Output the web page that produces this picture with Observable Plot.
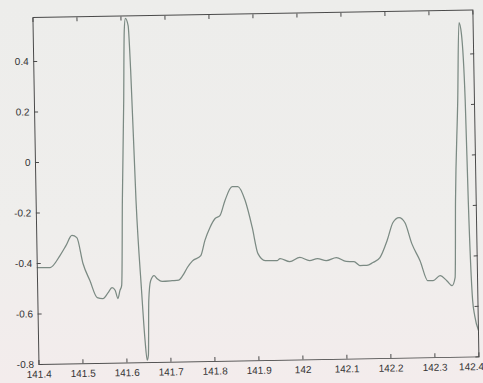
<!DOCTYPE html>
<html>
<head>
<meta charset="utf-8">
<script src="https://cdn.jsdelivr.net/npm/d3@7"></script>
<script src="https://cdn.jsdelivr.net/npm/@observablehq/plot@0.6"></script>
<style>
  html, body { margin: 0; padding: 0; overflow: hidden; width: 483px; height: 383px; }
  body { background: linear-gradient(#ededeb 0%, #efeeec 60%, #f3ecec 100%); }
  svg { transform: rotate(-1deg); transform-origin: 50% 50%; display: block; }
</style>
</head>
<body>
<div id="chart"></div>
<script>
const time = [
  141.400, 141.429, 141.452, 141.466, 141.480, 141.491, 141.504, 141.519, 141.535, 141.548,
  141.560, 141.569, 141.576, 141.582, 141.587, 141.591, 141.596, 141.603, 141.607, 141.610,
  141.616, 141.620, 141.627, 141.636, 141.642, 141.646, 141.649, 141.652, 141.657, 141.665,
  141.672, 141.683, 141.706, 141.721, 141.733, 141.741, 141.753, 141.772, 141.782, 141.794,
  141.806, 141.817, 141.829, 141.846, 141.859, 141.875, 141.890, 141.902, 141.918, 141.945,
  141.952, 141.974, 141.997, 142.019, 142.037, 142.057, 142.080, 142.102, 142.120, 142.133,
  142.149, 142.163, 142.179, 142.196, 142.210, 142.224, 142.237, 142.252, 142.270, 142.287,
  142.299, 142.315, 142.330, 142.342, 142.349, 142.353, 142.362, 142.368, 142.373, 142.379,
  142.382, 142.388, 142.392, 142.400
];
const voltage = [
  -0.416, -0.417, -0.370, -0.331, -0.291, -0.300, -0.403, -0.471, -0.539, -0.543,
  -0.520, -0.500, -0.511, -0.544, -0.512, -0.493, -0.156, 0.240, 0.517, 0.565,
  0.536, 0.358, -0.158, -0.514, -0.712, -0.790, -0.770, -0.555, -0.476, -0.456,
  -0.468, -0.479, -0.477, -0.475, -0.450, -0.426, -0.400, -0.380, -0.320, -0.269,
  -0.234, -0.223, -0.164, -0.109, -0.109, -0.165, -0.272, -0.376, -0.404, -0.405,
  -0.397, -0.410, -0.394, -0.407, -0.400, -0.408, -0.397, -0.413, -0.414, -0.430,
  -0.430, -0.419, -0.400, -0.333, -0.262, -0.243, -0.263, -0.347, -0.415, -0.495,
  -0.495, -0.476, -0.496, -0.516, -0.485, -0.180, 0.216, 0.525, 0.481, 0.216,
  -0.182, -0.577, -0.636, -0.695
];
const xTicks = [141.4, 141.5, 141.6, 141.7, 141.8, 141.9, 142.0, 142.1, 142.2, 142.3, 142.4];
const xTickLabels = ["141.4", "141.5", "141.6", "141.7", "141.8", "141.9", "142", "142.1", "142.2", "142.3", "142.4"];
const yTicks = [0.4, 0.2, 0, -0.2, -0.4, -0.6, -0.8];
const yTickLabels = ["0.4", "0.2", "0", "-0.2", "-0.4", "-0.6", "-0.8"];

const data = time.map((t, i) => ({t, v: voltage[i]}));
const xLab = d => xTickLabels[xTicks.indexOf(d)] ?? "";
const yLab = d => yTickLabels[yTicks.indexOf(d)] ?? "";
const blank = () => "";
const lastX = xTicks[xTicks.length - 1];
const innerXTicks = xTicks.slice(0, -1);

const chart = Plot.plot({
  width: 483,
  height: 383,
  marginLeft: 35.5,
  marginRight: 7.5,
  marginTop: 13.5,
  marginBottom: 22.5,
  style: {background: "transparent", fontFamily: "'Liberation Sans', Arial, sans-serif", fontSize: "10px", color: "#333"},
  x: {domain: [141.4, 142.4]},
  y: {domain: [-0.8, 0.574]},
  marks: [
    Plot.line(data, {x: "t", y: "v", stroke: "#7b8a83", strokeWidth: 1.25, curve: "monotone-x"}),
    Plot.frame({stroke: "#4a4a4a", strokeWidth: 1}),
    Plot.axisY(yTicks, {anchor: "left", tickSize: 0, tickPadding: 5, tickFormat: yLab, label: null, fill: "#333"}),
    Plot.axisY(yTicks, {anchor: "left", tickSize: 4, dx: 4, tickFormat: blank, label: null, stroke: "#4a4a4a"}),
    Plot.axisY(yTicks, {anchor: "right", tickSize: 4, dx: -4, tickFormat: blank, label: null, stroke: "#4a4a4a"}),
    Plot.axisX(innerXTicks, {anchor: "bottom", tickSize: 0, tickPadding: 6, tickFormat: xLab, label: null, fill: "#333"}),
    Plot.axisX([lastX], {anchor: "bottom", tickSize: 0, tickPadding: 6, tickFormat: xLab, label: null, fill: "#333", textAnchor: "end", dx: 5}),
    Plot.axisX(xTicks, {anchor: "bottom", tickSize: 4, dy: -4, tickFormat: blank, label: null, stroke: "#4a4a4a"}),
    Plot.axisX(xTicks, {anchor: "top", tickSize: 4, dy: 4, tickFormat: blank, label: null, stroke: "#4a4a4a"})
  ]
});
document.getElementById("chart").appendChild(chart);
</script>
</body>
</html>
